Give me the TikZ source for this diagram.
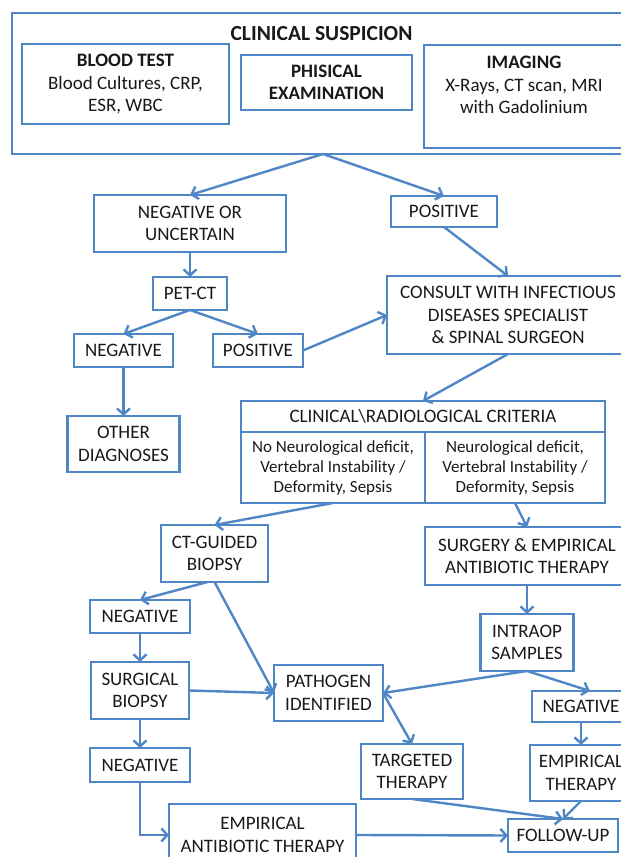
\documentclass[tikz,border=0pt]{standalone}
\usepackage{fontspec}
\setmainfont{Carlito}
\usepackage{xcolor}
\definecolor{boxblue}{RGB}{79, 134, 198}
\definecolor{inkgray}{RGB}{25, 25, 25}
\usepackage{tikz}
\usetikzlibrary{arrows.meta, positioning}

\begin{document}
\begin{tikzpicture}[x=1pt, y=1pt,
        flowbox/.style={rectangle, draw=boxblue, line width=2.4pt, outer sep=0pt, inner sep=2pt, align=center, text=inkgray, font=\fontsize{19}{22.5}\selectfont},
        cellbox/.style={flowbox, font=\fontsize{17}{20}\selectfont},
        flowline/.style={draw=boxblue, line width=2.4pt, -{Straight Barb[length=6pt, width=13pt]}}]

        \useasboundingbox (0,0) rectangle (621,857);
        \clip (0,0) rectangle (621,857);

        % Sospecha clinica
        \node [flowbox, minimum width=622, minimum height=141] (suspicion) at (323,773.5) {};
        \node [text=inkgray, font=\fontsize{21.5}{24}\selectfont\bfseries] (title) at (321.5,823.5) {CLINICAL SUSPICION};
        \node [flowbox, minimum width=207, minimum height=80] (blood) at (125.5,773) {\textbf{BLOOD TEST}\\Blood Cultures, CRP,\\ESR, WBC};
        \node [flowbox, minimum width=171, minimum height=55] (physical) at (326.5,774.5) {\textbf{PHISICAL}\\\textbf{EXAMINATION}};
        \node [flowbox, minimum width=200, minimum height=103] (imaging) at (524,760.5) {\textbf{IMAGING}\\X-Rays, CT scan, MRI\\with Gadolinium\\\mbox{}};

        % Rama izquierda (PET-CT)
        \node [flowbox, minimum width=192, minimum height=57] (negunc) at (190,633.5) {NEGATIVE OR\\UNCERTAIN};
        \node [flowbox, minimum width=106, minimum height=31] (positive) at (444,645.5) {POSITIVE};
        \node [flowbox, below=25pt of negunc, minimum width=74, minimum height=33] (petct) {PET-CT};
        \node [flowbox, minimum width=99, minimum height=33] (petneg) at (123.5,506.5) {NEGATIVE};
        \node [flowbox, minimum width=90, minimum height=33] (petpos) at (258,506.5) {POSITIVE};
        \node [flowbox, below=49pt of petneg, minimum width=112, minimum height=56] (otherdx) {OTHER\\DIAGNOSES};

        % Consulta y criterios
        \node [flowbox, minimum width=242, minimum height=78] (consult) at (508,542) {CONSULT WITH INFECTIOUS\\DISEASES SPECIALIST\\\& SPINAL SURGEON};
        \node [flowbox, minimum width=364, minimum height=31] (criteria) at (423,440.5) {CLINICAL\textbackslash RADIOLOGICAL CRITERIA};
        \node [cellbox, anchor=north west, minimum width=184, minimum height=71] (nodeficit) at (criteria.south west) {No Neurological deficit,\\Vertebral Instability /\\Deformity, Sepsis};
        \node [cellbox, anchor=north east, minimum width=180, minimum height=71] (deficit) at (criteria.south east) {Neurological deficit,\\Vertebral Instability /\\Deformity, Sepsis};

        % Biopsia
        \node [flowbox, minimum width=107, minimum height=57] (ctbiopsy) at (214.5,303.5) {CT-GUIDED\\BIOPSY};
        \node [flowbox, minimum width=100, minimum height=33] (ctneg) at (140,240.5) {NEGATIVE};
        \node [flowbox, below=29pt of ctneg, minimum width=98, minimum height=57] (surgbiopsy) {SURGICAL\\BIOPSY};
        \node [flowbox, below=29pt of surgbiopsy, minimum width=100, minimum height=34] (surgneg) {NEGATIVE};
        \node [flowbox, minimum width=109, minimum height=56] (pathogen) at (328.5,164) {PATHOGEN\\IDENTIFIED};

        % Cirugia
        \node [flowbox, minimum width=204, minimum height=58] (surgery) at (527,301) {SURGERY \& EMPIRICAL\\ANTIBIOTIC THERAPY};
        \node [flowbox, below=29pt of surgery, minimum width=93, minimum height=57] (intraop) {INTRAOP\\SAMPLES};
        \node [flowbox, minimum width=98, minimum height=31] (opneg) at (581,150.5) {NEGATIVE};
        \node [flowbox, below=23pt of opneg, minimum width=102, minimum height=56] (empirical) {EMPIRICAL\\THERAPY};

        % Terapia final
        \node [flowbox, minimum width=102, minimum height=55] (targeted) at (412,85.5) {TARGETED\\THERAPY};
        \node [flowbox, minimum width=187, minimum height=62] (empantibiotic) at (262.5,22) {EMPIRICAL\\ANTIBIOTIC THERAPY};
        \node [flowbox, minimum width=110, minimum height=33] (followup) at (563,21.5) {FOLLOW-UP};

        % Conexiones
        \path [flowline] (suspicion.south) -- (negunc.north);
        \path [flowline] (suspicion.south) -- (positive.north);
        \path [flowline] (negunc) -- (petct);
        \path [flowline] (petct.south) -- (petneg.north);
        \path [flowline] (petct.south) -- (petpos.north);
        \path [flowline] (petneg) -- (otherdx);
        \path [flowline] (petpos.east) -- (consult.west);
        \path [flowline] (positive.south) -- (consult.north);
        \path [flowline] (consult.south) -- (criteria.north);
        \path [flowline] (nodeficit.south) -- (ctbiopsy.north);
        \path [flowline] (deficit.south) -- (surgery.north);
        \path [flowline] ([xshift=-7pt]ctbiopsy.south) -- (ctneg.north);
        \path [flowline] (ctbiopsy.south) -- (pathogen.west);
        \path [flowline] (ctneg) -- (surgbiopsy);
        \path [flowline] (surgbiopsy.east) -- (pathogen.west);
        \path [flowline] (surgbiopsy) -- (surgneg);
        \path [flowline] (surgneg.south) |- (empantibiotic.west);
        \path [flowline] (surgery) -- (intraop);
        \path [flowline] (intraop.south) -- (pathogen.east);
        \path [flowline] (intraop.south) -- ([xshift=9pt]opneg.north);
        \path [flowline] (pathogen.east) -- (targeted.north);
        \path [flowline] (opneg) -- (empirical);
        \path [flowline] (targeted.south) -- (followup.north);
        \path [flowline] (empirical.south) -- (followup.north);
        \path [flowline] (empantibiotic.east) -- (followup.west);
\end{tikzpicture}
\end{document}
